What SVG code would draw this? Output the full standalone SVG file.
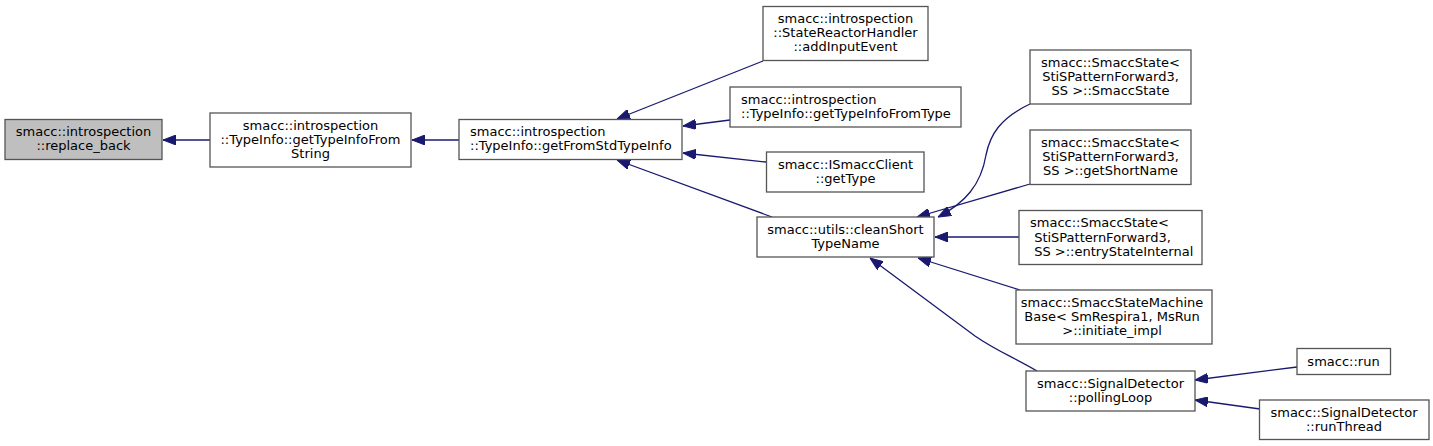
<svg xmlns="http://www.w3.org/2000/svg" width="1433" height="446" viewBox="0 0 1433 446">
<style>
  .node rect { fill: #ffffff; stroke: #555555; stroke-width: 1.3; }
  .node.hl rect { fill: #bfbfbf; }
  text { font-family: "DejaVu Sans", "Liberation Sans", sans-serif; font-size: 13px; fill: #000000; }
  .c { text-anchor: middle; }
  .l { text-anchor: start; }
  .edges path { fill: none; stroke: #191970; stroke-width: 1.3; marker-end: url(#arr); }
</style>
<defs>
  <marker id="arr" markerUnits="userSpaceOnUse" markerWidth="13" markerHeight="10" refX="13" refY="5" orient="auto">
    <path d="M0,0 L13,5 L0,10 z" fill="#191970" stroke="#191970" stroke-width="1"/>
  </marker>
</defs>
<rect width="1433" height="446" fill="#ffffff"/>
<g id="edges" class="edges">
  <path d="M210,140 L163,140"/>
  <path d="M459,140 L412,140"/>
  <path d="M763,61 L617,119"/>
  <path d="M730,120 L683,126"/>
  <path d="M766,162 L683,153"/>
  <path d="M772,217 L617,160"/>
  <path d="M1030,104 C1000,118 990,135 986,155 C981,185 965,203 938,217"/>
  <path d="M1030,184 L917,217"/>
  <path d="M1019,237 L935,237"/>
  <path d="M1020,290 L918,258"/>
  <path d="M1037,371 C1015,358 995,350 975,336 L870,258"/>
  <path d="M1297,367 L1195,380"/>
  <path d="M1260,409 L1195,400"/>
</g>
<g id="n_replace_back" class="node hl">
  <rect x="5" y="119.5" width="157" height="40"/>
  <text class="c" x="83.5" y="136">smacc::introspection</text>
  <text class="c" x="83.5" y="150">::replace_back</text>
</g>
<g id="n_getTypeInfoFromString" class="node">
  <rect x="210" y="113" width="201" height="54"/>
  <text class="c" x="310.5" y="129.5">smacc::introspection</text>
  <text class="c" x="310.5" y="144">::TypeInfo::getTypeInfoFrom</text>
  <text class="c" x="310.5" y="158">String</text>
</g>
<g id="n_getFromStdTypeInfo" class="node">
  <rect x="459" y="119.5" width="223" height="40"/>
  <text class="l" x="470" y="136">smacc::introspection</text>
  <text class="l" x="470" y="150">::TypeInfo::getFromStdTypeInfo</text>
</g>
<g id="n_addInputEvent" class="node">
  <rect x="763" y="6.5" width="165" height="54"/>
  <text class="c" x="845.5" y="23">smacc::introspection</text>
  <text class="c" x="845.5" y="37">::StateReactorHandler</text>
  <text class="c" x="845.5" y="51">::addInputEvent</text>
</g>
<g id="n_getTypeInfoFromType" class="node">
  <rect x="730" y="87" width="231" height="40"/>
  <text class="l" x="741" y="103.5">smacc::introspection</text>
  <text class="l" x="741" y="117.5">::TypeInfo::getTypeInfoFromType</text>
</g>
<g id="n_getType" class="node">
  <rect x="766.5" y="152" width="157.5" height="40"/>
  <text class="c" x="845.5" y="168.5">smacc::ISmaccClient</text>
  <text class="c" x="845.5" y="182.5">::getType</text>
</g>
<g id="n_cleanShortTypeName" class="node">
  <rect x="757" y="217" width="177" height="40"/>
  <text class="c" x="845.5" y="233.5">smacc::utils::cleanShort</text>
  <text class="c" x="845.5" y="247.5">TypeName</text>
</g>
<g id="n_SmaccState" class="node">
  <rect x="1030" y="50" width="161" height="54"/>
  <text class="c" x="1110.5" y="66.5">smacc::SmaccState&lt;</text>
  <text class="c" x="1110.5" y="81"> StiSPatternForward3,</text>
  <text class="c" x="1110.5" y="95"> SS &gt;::SmaccState</text>
</g>
<g id="n_getShortName" class="node">
  <rect x="1030" y="130" width="161" height="54.5"/>
  <text class="c" x="1110.5" y="146.5">smacc::SmaccState&lt;</text>
  <text class="c" x="1110.5" y="161"> StiSPatternForward3,</text>
  <text class="c" x="1110.5" y="175"> SS &gt;::getShortName</text>
</g>
<g id="n_entryStateInternal" class="node">
  <rect x="1019" y="210.5" width="183" height="54"/>
  <text class="l" x="1030" y="227" xml:space="preserve">smacc::SmaccState&lt;</text>
  <text class="l" x="1030" y="241.5" xml:space="preserve"> StiSPatternForward3,</text>
  <text class="l" x="1030" y="255.5" xml:space="preserve"> SS &gt;::entryStateInternal</text>
</g>
<g id="n_initiate_impl" class="node">
  <rect x="1016" y="290" width="196" height="54"/>
  <text class="c" x="1112" y="306.5">smacc::SmaccStateMachine</text>
  <text class="c" x="1112" y="321">Base&lt; SmRespira1, MsRun</text>
  <text class="c" x="1112" y="335">&gt;::initiate_impl</text>
</g>
<g id="n_pollingLoop" class="node">
  <rect x="1026" y="371" width="169" height="40"/>
  <text class="c" x="1110.5" y="387.5">smacc::SignalDetector</text>
  <text class="c" x="1110.5" y="401.5">::pollingLoop</text>
</g>
<g id="n_run" class="node">
  <rect x="1297" y="348.5" width="93.5" height="26"/>
  <text class="c" x="1343.5" y="366">smacc::run</text>
</g>
<g id="n_runThread" class="node">
  <rect x="1259.5" y="400" width="169.5" height="39.5"/>
  <text class="c" x="1344" y="416.5">smacc::SignalDetector</text>
  <text class="c" x="1344" y="430.5">::runThread</text>
</g>
</svg>
